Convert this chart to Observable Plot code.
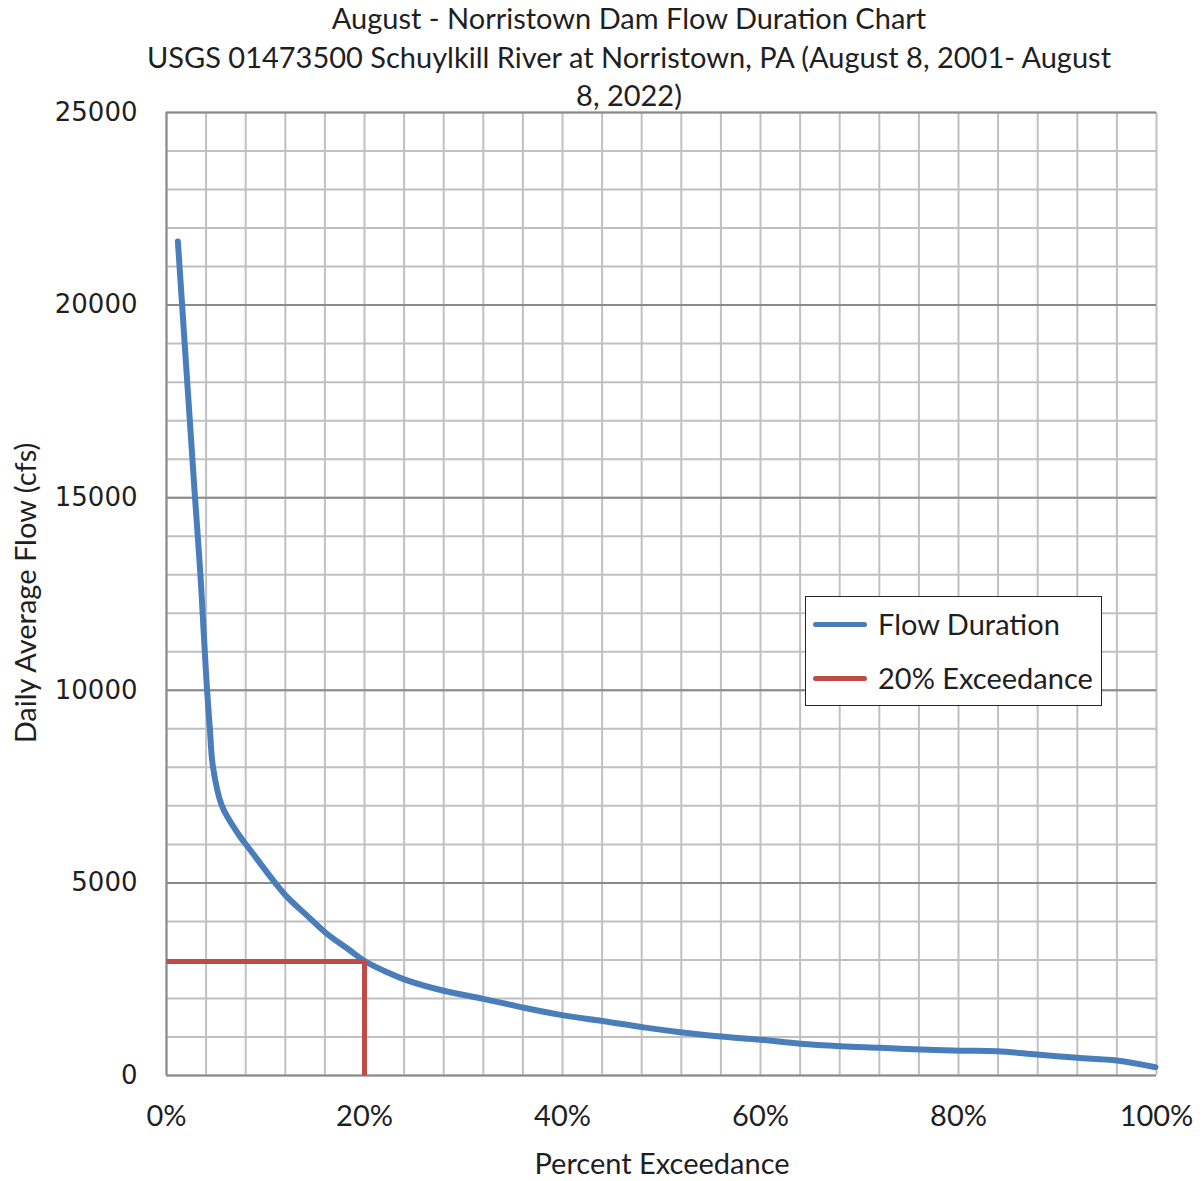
<!DOCTYPE html>
<html><head><meta charset="utf-8">
<script src="https://cdn.jsdelivr.net/npm/d3@7"></script>
<script src="https://cdn.jsdelivr.net/npm/@observablehq/plot@0.6"></script>
<style>
body{margin:0;background:#fff;}
#wrap{position:relative;width:1204px;height:1181px;font-family:Lato,"Open Sans",sans-serif;color:#1f1f1f;overflow:hidden;}
#chart{position:absolute;left:0;top:0;}
#title{position:absolute;left:29px;width:1200px;top:-1px;text-align:center;font-size:29px;line-height:38.5px;white-space:nowrap;}
#xlabel{position:absolute;left:462px;width:400px;top:1146px;text-align:center;font-size:29px;line-height:34px;}
#ylabel{position:absolute;left:-175px;width:400px;top:576px;text-align:center;font-size:29px;line-height:34px;transform:rotate(-90deg);}
#legend{position:absolute;left:805px;top:596px;width:295px;height:108px;border:1px solid #262626;background:#fff;}
.row{position:absolute;left:0;height:30px;}
.sw{position:absolute;left:7px;width:54px;height:5px;border-radius:3px;}
.lt{position:absolute;left:72px;font-size:29px;line-height:30px;white-space:nowrap;}
</style></head><body>
<div id="wrap">
<div id="chart"></div>
<div id="title"></div>
<div id="xlabel"></div>
<div id="ylabel"></div>
<div id="legend"></div>
</div>
<script>
const titleLines = ["August - Norristown Dam Flow Duration Chart",
  "USGS 01473500 Schuylkill River at Norristown, PA (August 8, 2001- August",
  "8, 2022)"];
const xAxisLabel = "Percent Exceedance";
const yAxisLabel = "Daily Average Flow (cfs)";
const seriesNames = ["Flow Duration", "20% Exceedance"];
const seriesColors = ["#4a7ebb", "#be4b48"];

// Flow duration curve (percent exceedance, cfs)
const pct  = [1.15, 2.8, 3.43, 3.87, 4.1, 4.38, 4.7, 5.6, 7.3, 8.5, 10.8, 12.2, 14.2, 16.2, 18.3, 20.1, 22.3, 24.3, 28, 32, 36.1, 40.1, 44.2, 48.2, 51.9, 56, 60, 64, 68.1, 72.1, 76.2, 80.2, 83.9, 87.9, 92, 96, 99.9];
const flow = [21650, 15300, 12980, 10990, 10000, 9000, 8000, 7000, 6250, 5840, 5060, 4630, 4150, 3680, 3290, 2960, 2680, 2470, 2200, 1990, 1760, 1560, 1410, 1250, 1125, 1010, 930, 825, 760, 720, 675, 645, 630, 545, 460, 390, 215];

// 20% exceedance marker
const exPct  = [0, 20, 20];
const exFlow = [2960, 2960, 0];

const yTicks = [0, 5000, 10000, 15000, 20000, 25000];
const xTicks = [0, 20, 40, 60, 80, 100];

const flowData = pct.map((p, i) => ({pct: p, flow: flow[i]}));
const exData = exPct.map((p, i) => ({pct: p, flow: exFlow[i]}));

const chart = Plot.plot({
  width: 1204, height: 1181,
  marginLeft: 166, marginRight: 48, marginTop: 112, marginBottom: 106,
  x: {domain: [0, 100]},
  y: {domain: [0, 25000]},
  style: {background: "transparent", fontFamily: "Lato, sans-serif", color: "#1f1f1f"},
  marks: [
    Plot.ruleY(d3.range(0, 25001, 1000), {stroke: "#c0c0c0", strokeWidth: 2}),
    Plot.ruleX(d3.range(0, 101, 4), {stroke: "#c0c0c0", strokeWidth: 2}),
    Plot.ruleY(yTicks, {stroke: "#8a8a8a", strokeWidth: 2}),
    Plot.ruleX([0], {stroke: "#8a8a8a", strokeWidth: 2}),
    Plot.line(flowData, {x: "pct", y: "flow", stroke: seriesColors[0], strokeWidth: 6, curve: "catmull-rom", strokeLinecap: "round"}),
    Plot.line(exData, {x: "pct", y: "flow", stroke: seriesColors[1], strokeWidth: 5, strokeLinejoin: "miter", strokeLinecap: "butt"}),
    Plot.axisY({ticks: yTicks, tickSize: 0, tickPadding: 29, tickFormat: d => String(d), fontSize: 26, fontFamily: "DejaVu Sans", label: null}),
    Plot.axisX({ticks: xTicks, tickSize: 0, tickPadding: 30, tickFormat: d => d + "%", fontSize: 29, label: null})
  ]
});
document.getElementById("chart").appendChild(chart);

document.getElementById("title").innerHTML = titleLines.join("<br>");
document.getElementById("xlabel").textContent = xAxisLabel;
document.getElementById("ylabel").textContent = yAxisLabel;

const legend = d3.select("#legend");
seriesNames.forEach((name, i) => {
  const row = legend.append("div").attr("class", "row").style("top", (12 + i * 54) + "px").style("width", "100%");
  row.append("div").attr("class", "sw").style("top", "13px").style("background", seriesColors[i]);
  row.append("div").attr("class", "lt").text(name);
});
</script>
</body></html>
